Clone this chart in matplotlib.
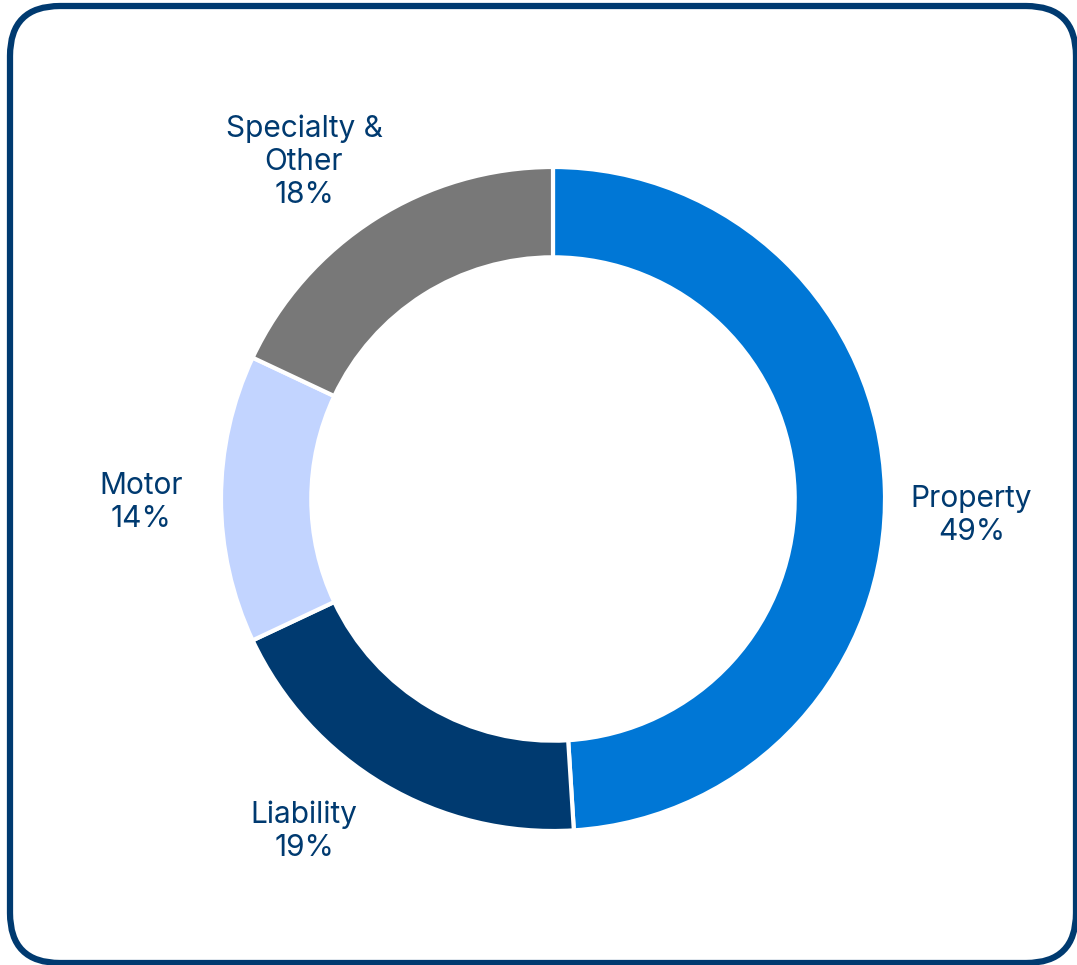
import matplotlib
matplotlib.use("Agg")
import matplotlib.pyplot as plt
from matplotlib.patches import FancyBboxPatch

# business mix, share of premiums
segments = ["Property", "Liability", "Motor", "Specialty &\nOther"]
shares = [49, 19, 14, 18]
colors = ["#0077D6", "#003A70", "#C2D4FF", "#787878"]
text_color = "#003A70"

# label anchor points, in units of the outer radius
label_x = [1.26, -0.75, -1.24, -0.75]
label_y = [-0.05, -1.0, -0.01, 1.015]

plt.rcParams["font.family"] = ["Inter", "DejaVu Sans"]

W, H, DPI = 1077, 965, 100
fig = plt.figure(figsize=(W / DPI, H / DPI), dpi=DPI)
ax = fig.add_axes([0, 0, 1, 1])

ax.pie(shares, colors=colors, startangle=90, counterclock=False, radius=1.0,
       wedgeprops=dict(width=0.272, edgecolor="white", linewidth=3))

# pie() resets the limits, so place the ring afterwards
R_px = 332.0
cx, cy = 553.0, 499.0  # centre, pixels from the top-left
ax.set_xlim(-cx / R_px, (W - cx) / R_px)
ax.set_ylim(-(H - cy) / R_px, cy / R_px)
ax.set_aspect("equal")
ax.axis("off")

for name, val, x, y in zip(segments, shares, label_x, label_y):
    ax.text(x, y, f"{name}\n{val}%", ha="center", va="center",
            fontsize=21.5, color=text_color, linespacing=1.22)

# rounded frame around the card, running slightly past the right and bottom edges
frame = FancyBboxPatch((10, 2), 1066, 957, boxstyle="round,pad=0,rounding_size=50",
                       transform=None, facecolor="none", edgecolor="#003A70",
                       linewidth=4.5)
fig.patches.append(frame)

fig.savefig("out.png", dpi=DPI)
